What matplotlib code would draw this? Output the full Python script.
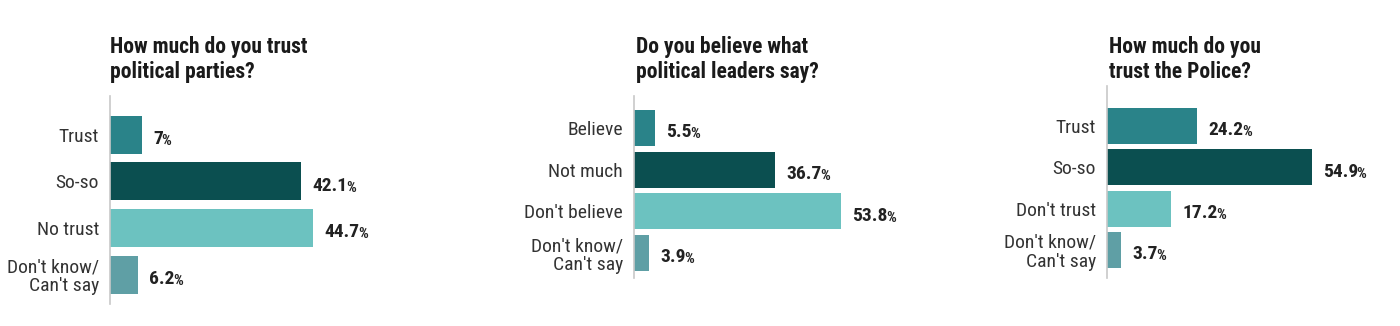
import matplotlib
matplotlib.use("Agg")
import matplotlib.pyplot as plt
from matplotlib import font_manager

# pick a condensed font if one is installed
entries = font_manager.fontManager.ttflist
names = {f.name for f in entries}
family, stretch, narrow = "DejaVu Sans", "normal", False
for cand in ["Roboto Condensed", "Open Sans Condensed", "Liberation Sans Narrow",
             "Noto Sans Condensed", "Arial Narrow"]:
    if cand in names:
        family, narrow = cand, True
        break
else:
    for f in entries:
        if "condensed" in str(f.stretch).lower() or "Condensed" in f.fname:
            family, stretch, narrow = f.name, "condensed", True
            break

plt.rcParams['font.family'] = [family, 'DejaVu Sans']
plt.rcParams['font.stretch'] = stretch

# data
titles = ["How much do you trust\npolitical parties?",
          "Do you believe what\npolitical leaders say?",
          "How much do you\ntrust the Police?"]
cats_parties = ["Trust", "So-so", "No trust", "Don't know/\nCan't say"]
vals_parties = [7, 42.1, 44.7, 6.2]
cats_leaders = ["Believe", "Not much", "Don't believe", "Don't know/\nCan't say"]
vals_leaders = [5.5, 36.7, 53.8, 3.9]
cats_police = ["Trust", "So-so", "Don't trust", "Don't know/\nCan't say"]
vals_police = [24.2, 54.9, 17.2, 3.7]
colors = ["#2a8389", "#0b4f50", "#6cc2c0", "#5f9fa5"]

W, H = 1400, 326
fig = plt.figure(figsize=(W / 100, H / 100), dpi=100)

fs_cat = 14 if narrow else 11.5
fs_val = 14 if narrow else 12
fs_pct = 11 if narrow else 9.5
fs_title = 15.5 if narrow else 12.5

# layout in pixels: left, axis top, axis bottom, px per %, right edge, ylim top/bottom, bar height, title x
panels = [
    (cats_parties, vals_parties, 110, 96, 304, 4.54, 400, -0.83, 3.63, 0.81, 110),
    (cats_leaders, vals_leaders, 634, 96, 278, 3.85, 920, -0.77, 3.60, 0.86, 636),
    (cats_police, vals_police, 1107, 86, 278, 3.73, 1390, -0.97, 3.68, 0.87, 1109),
]

for k, (cats, vals, left, top, bottom, scale, right, ytop, ybot, bh, tx) in enumerate(panels):
    ax = fig.add_axes([left / W, 1 - bottom / H, (right - left) / W, (bottom - top) / H])
    ypos = list(range(len(cats)))
    ax.barh(ypos, vals, height=bh, color=colors)
    ax.set_xlim(0, (right - left) / scale)
    ax.set_ylim(ybot, ytop)
    for s in ["top", "right", "bottom"]:
        ax.spines[s].set_visible(False)
    ax.spines["left"].set_color("#c8c8c8")
    ax.spines["left"].set_linewidth(1.2)
    ax.set_xticks([])
    ax.set_yticks(ypos)
    ax.set_yticklabels(cats, fontsize=fs_cat, color="#333333", linespacing=1.05)
    ax.tick_params(axis="y", length=0, pad=8)
    for y, v in zip(ypos, vals):
        t = ax.annotate(f"{v:g}", xy=(v, y), xytext=(8, -3), textcoords="offset points",
                        va="center", ha="left", fontsize=fs_val, fontweight="bold", color="#222222")
        ax.annotate("%", xy=(1, 0), xycoords=t, xytext=(-1, 0), textcoords="offset points",
                    va="bottom", ha="left", fontsize=fs_pct, fontweight="bold", color="#222222")
    fig.text(tx / W, 1 - 36 / H, titles[k], va="top", ha="left", fontsize=fs_title,
             fontweight="bold", color="#1a1a1a", linespacing=1.15)

fig.savefig("out.png", dpi=100)
